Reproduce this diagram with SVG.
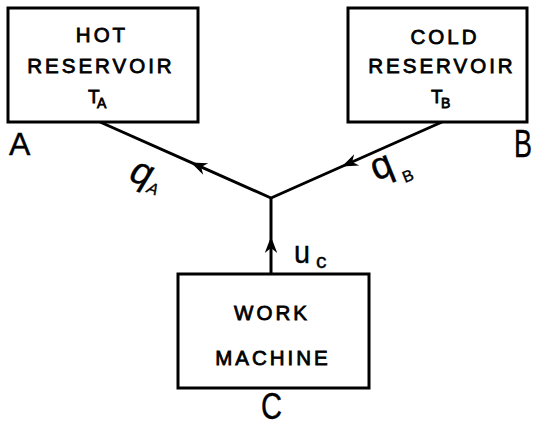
<svg xmlns="http://www.w3.org/2000/svg" width="534" height="426" viewBox="0 0 534 426">
<defs>
<style>
.box{fill:#fff;stroke:#000;stroke-width:3}
.ln{fill:none;stroke:#000;stroke-width:3;marker-mid:url(#ah)}
.t{font-family:"Liberation Sans",Arial,sans-serif;fill:#000;stroke:#000;stroke-width:0.8}
.lab{font-size:20.5px;letter-spacing:3px;text-anchor:middle}
.big{font-family:"Liberation Sans",Arial,sans-serif;fill:#000;stroke:#000;stroke-width:0.4}
</style>
<marker id="ah" markerUnits="userSpaceOnUse" markerWidth="20" markerHeight="20" viewBox="-14 -7 16 14" refX="0" refY="0" orient="auto">
<path d="M1,0 L-12,-5 L-8,0 L-12,5 Z" fill="#000"/>
</marker>
</defs>
<g id="connectors">
<path class="ln" d="M271,198 L192,162.9 L100,122"/>
<path class="ln" d="M442,122 L343,166 L271,198"/>
<path class="ln" d="M271,274 L271,238 L271,198"/>
</g>
<g id="hot">
<rect class="box" x="8" y="8" width="190" height="114"/>
<text class="t lab" x="102" y="42">HOT</text>
<text class="t lab" x="101" y="73">RESERVOIR</text>
<text class="t" x="88" y="103" font-size="19">T</text>
<text class="t" x="97" y="108" font-size="14">A</text>
<text class="big" x="9" y="155" font-size="32">A</text>
</g>
<g id="cold">
<rect class="box" x="348" y="8" width="179" height="114"/>
<text class="t lab" x="445" y="44">COLD</text>
<text class="t lab" x="442" y="73">RESERVOIR</text>
<text class="t" x="431" y="103" font-size="19">T</text>
<text class="t" x="441" y="108" font-size="14">B</text>
<text class="big" x="514" y="157" font-size="39" textLength="18" lengthAdjust="spacingAndGlyphs">B</text>
</g>
<g id="work">
<rect class="box" x="178" y="274" width="191" height="114"/>
<text class="t lab" x="272" y="320" font-size="20">WORK</text>
<text class="t lab" x="273" y="365" font-size="20">MACHINE</text>
<text class="big" x="261" y="419" font-size="37" textLength="21" lengthAdjust="spacingAndGlyphs">C</text>
</g>
<g id="labels">
<text class="big" font-size="38" font-style="italic" transform="translate(128,180) rotate(20)">q</text>
<text class="big" font-size="16" font-style="italic" transform="translate(146,192) rotate(20)">A</text>
<text class="big" font-size="38" transform="translate(376,181) rotate(-22)">q</text>
<text class="big" font-size="16" transform="translate(405,183) rotate(-22)">B</text>
<text class="big" font-size="32" textLength="16" lengthAdjust="spacingAndGlyphs" transform="translate(294,263)">u</text>
<text class="big" font-size="21" transform="translate(316,268)">c</text>
</g>
</svg>
